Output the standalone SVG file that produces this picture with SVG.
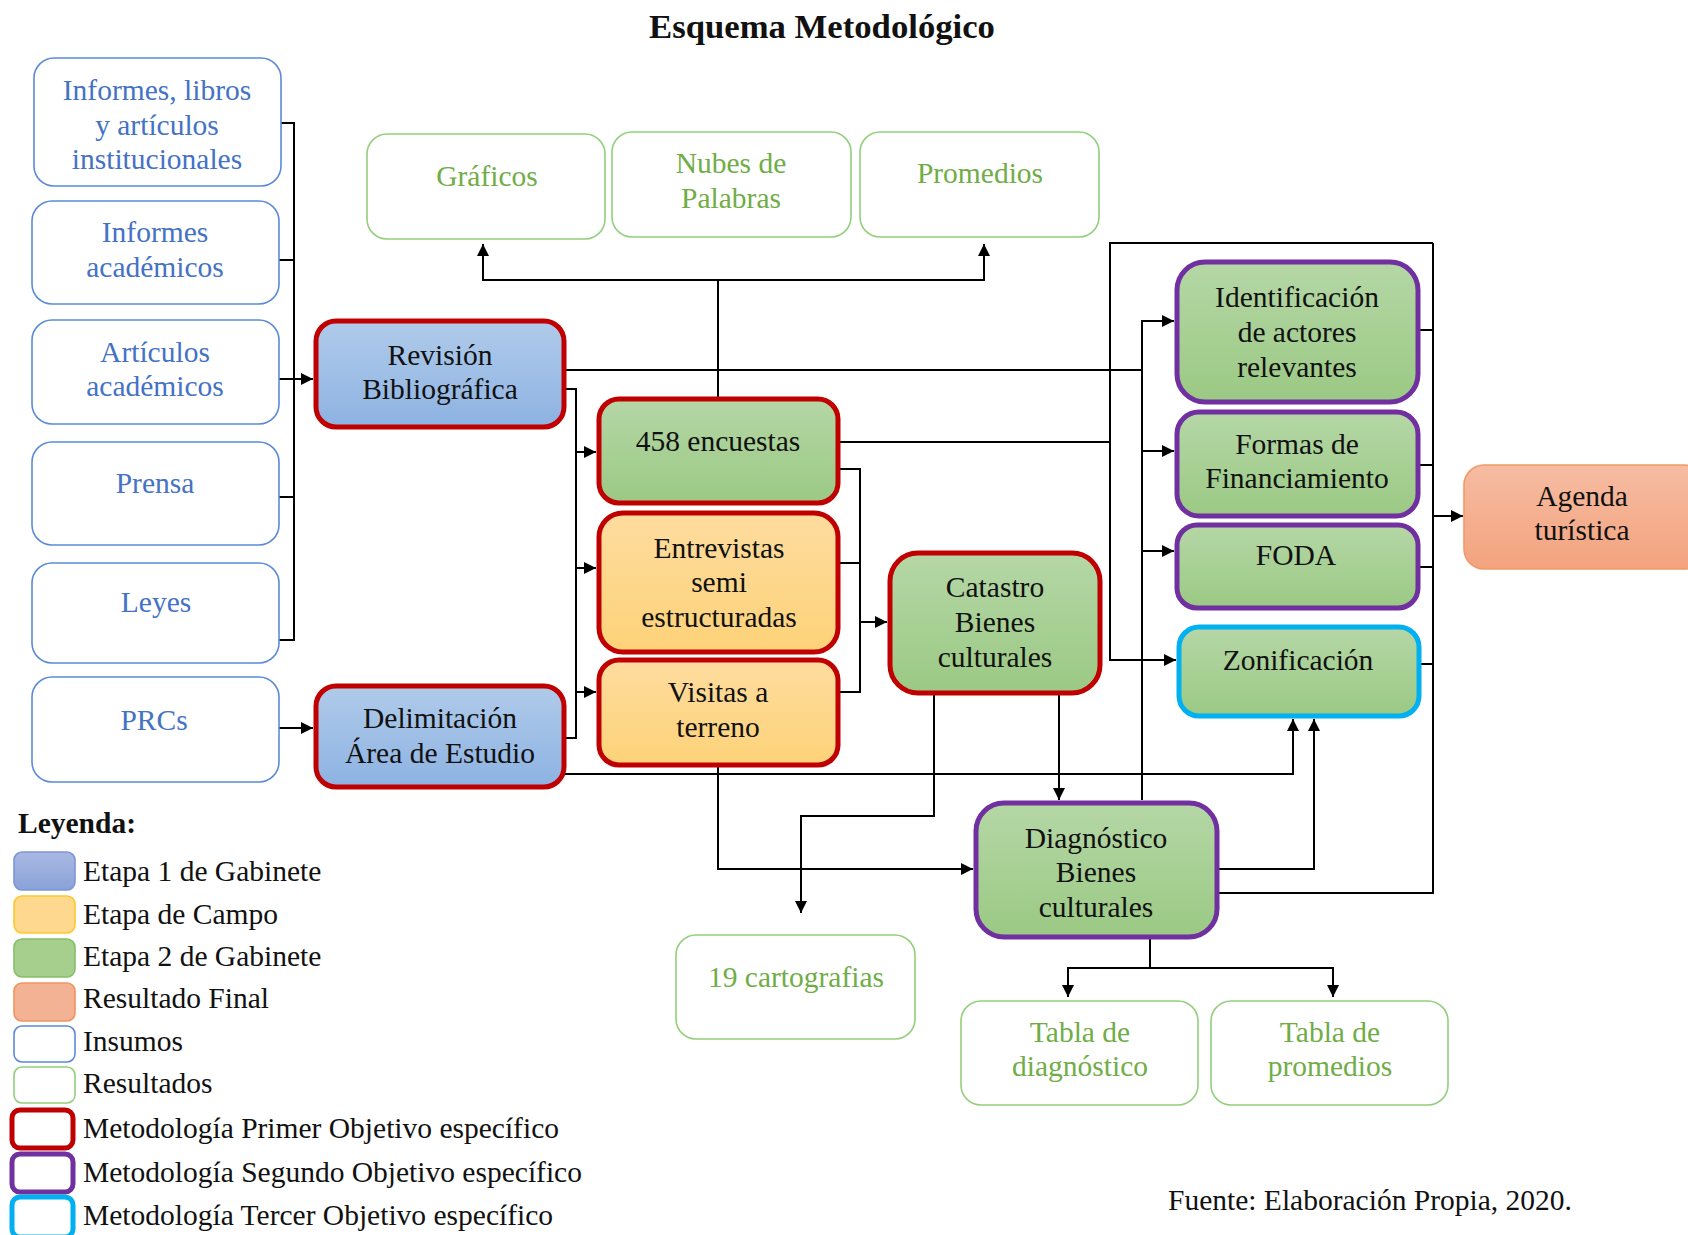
<svg xmlns="http://www.w3.org/2000/svg" width="1688" height="1235" viewBox="0 0 1688 1235">
<style>
.t{font-family:"Liberation Serif","Times New Roman",serif;font-size:29.5px;text-anchor:middle}
.l{font-family:"Liberation Serif","Times New Roman",serif;font-size:29.5px;fill:#111}
.tb{fill:#4472c4}
.tg{fill:#70ad47}
.tk{fill:#111}
.in{fill:#fff;stroke:#5b8bd6;stroke-width:1.6}
.res{fill:#fff;stroke:#93cf7c;stroke-width:1.6}
.red{stroke:#c00000;stroke-width:5}
.pur{stroke:#7030a0;stroke-width:5}
.cy{stroke:#00b0f0;stroke-width:5}
.fb{fill:url(#gb)}
.fgr{fill:url(#gg)}
.fo{fill:url(#go)}
.conn path{fill:none;stroke:#000;stroke-width:2}
.a{marker-end:url(#ar)}
</style>
<defs>
<linearGradient id="gb" x1="0" y1="0" x2="0" y2="1"><stop offset="0" stop-color="#b0cbea"/><stop offset="1" stop-color="#8db2e2"/></linearGradient>
<linearGradient id="gg" x1="0" y1="0" x2="0" y2="1"><stop offset="0" stop-color="#b5d7a6"/><stop offset="1" stop-color="#9bc984"/></linearGradient>
<linearGradient id="go" x1="0" y1="0" x2="0" y2="1"><stop offset="0" stop-color="#fedc9f"/><stop offset="1" stop-color="#fdd278"/></linearGradient>
<linearGradient id="gr" x1="0" y1="0" x2="0" y2="1"><stop offset="0" stop-color="#f6bca2"/><stop offset="1" stop-color="#f3a37e"/></linearGradient>
<linearGradient id="gl" x1="0" y1="0" x2="0" y2="1"><stop offset="0" stop-color="#a9b8e2"/><stop offset="1" stop-color="#8aa2d9"/></linearGradient>
<marker id="ar" viewBox="0 0 10 10" refX="10" refY="5" markerUnits="userSpaceOnUse" markerWidth="14" markerHeight="12" orient="auto-start-reverse"><path d="M0,0 L10,5 L0,10 z" fill="#000"/></marker>
</defs>
<text x="822" y="38" style="font-family:'Liberation Serif','Times New Roman',serif;font-size:34.7px;font-weight:bold;text-anchor:middle;fill:#111">Esquema Metodológico</text>

<g class="conn">
<path d="M281 123 H294 V640 H279"/>
<path d="M279 260 H294"/>
<path d="M279 497 H294"/>
<path class="a" d="M279 379 H313"/>
<path class="a" d="M279 728 H313"/>
<path d="M564 370 H1142"/>
<path class="a" d="M1142 800 V321 H1174"/>
<path class="a" d="M1142 451 H1174"/>
<path class="a" d="M1142 551 H1174"/>
<path d="M564 389 H576 V738 H564"/>
<path class="a" d="M576 452 H596"/>
<path class="a" d="M576 568 H596"/>
<path class="a" d="M576 692 H596"/>
<path d="M718 397 V280"/>
<path class="a" d="M718 280 H483 V244"/>
<path class="a" d="M718 280 H984 V244"/>
<path d="M838 442 H1110"/>
<path class="a" d="M1433 243 H1110 V660 H1176"/>
<path d="M1433 243 V893 H1217"/>
<path d="M1418 330 H1433"/>
<path d="M1418 465 H1433"/>
<path d="M1418 567 H1433"/>
<path d="M1419 664 H1433"/>
<path class="a" d="M1433 516 H1463"/>
<path d="M838 469 H860 V692 H838"/>
<path d="M838 563 H860"/>
<path class="a" d="M860 622 H887"/>
<path class="a" d="M934 693 V816 H801 V913"/>
<path class="a" d="M1059 693 V800"/>
<path class="a" d="M564 774 H1293 V719"/>
<path class="a" d="M718 765 V869 H973"/>
<path class="a" d="M1217 869 H1314 V719"/>
<path d="M1150 937 V968"/>
<path d="M1068 997 V968 H1333 V997" style="marker-start:url(#ar);marker-end:url(#ar)"/>
</g>

<g id="n-informes-libros"><rect class="in" x="34" y="58" width="247" height="128" rx="20"/><text class="t tb"><tspan x="157" y="100">Informes, libros</tspan><tspan x="157" y="135">y artículos</tspan><tspan x="157" y="169">institucionales</tspan></text></g>
<g id="n-informes-academicos"><rect class="in" x="32" y="201" width="247" height="103" rx="20"/><text class="t tb"><tspan x="155" y="242">Informes</tspan><tspan x="155" y="277">académicos</tspan></text></g>
<g id="n-articulos"><rect class="in" x="32" y="320" width="247" height="104" rx="20"/><text class="t tb"><tspan x="155" y="362">Artículos</tspan><tspan x="155" y="396">académicos</tspan></text></g>
<g id="n-prensa"><rect class="in" x="32" y="442" width="247" height="103" rx="20"/><text class="t tb" x="155" y="493">Prensa</text></g>
<g id="n-leyes"><rect class="in" x="32" y="563" width="247" height="100" rx="20"/><text class="t tb" x="156" y="612">Leyes</text></g>
<g id="n-prcs"><rect class="in" x="32" y="677" width="247" height="105" rx="20"/><text class="t tb" x="154" y="730">PRCs</text></g>

<g id="n-revision"><rect class="fb red" x="316" y="321" width="248" height="106" rx="20"/><text class="t tk"><tspan x="440" y="365">Revisión</tspan><tspan x="440" y="399">Bibliográfica</tspan></text></g>
<g id="n-delimitacion"><rect class="fb red" x="316" y="686" width="248" height="101" rx="20"/><text class="t tk"><tspan x="440" y="728">Delimitación</tspan><tspan x="440" y="763">Área de Estudio</tspan></text></g>

<g id="n-graficos"><rect class="res" x="367" y="134" width="238" height="105" rx="20"/><text class="t tg" x="487" y="186">Gráficos</text></g>
<g id="n-nubes"><rect class="res" x="612" y="132" width="239" height="105" rx="20"/><text class="t tg"><tspan x="731" y="173">Nubes de</tspan><tspan x="731" y="208">Palabras</tspan></text></g>
<g id="n-promedios"><rect class="res" x="860" y="132" width="239" height="105" rx="20"/><text class="t tg" x="980" y="183">Promedios</text></g>

<g id="n-encuestas"><rect class="fgr red" x="599" y="399" width="239" height="104" rx="20"/><text class="t tk" x="718" y="451">458 encuestas</text></g>
<g id="n-entrevistas"><rect class="fo red" x="599" y="513" width="239" height="139" rx="24"/><text class="t tk"><tspan x="719" y="558">Entrevistas</tspan><tspan x="719" y="592">semi</tspan><tspan x="719" y="627">estructuradas</tspan></text></g>
<g id="n-visitas"><rect class="fo red" x="599" y="660" width="239" height="105" rx="20"/><text class="t tk"><tspan x="718" y="702">Visitas a</tspan><tspan x="718" y="737">terreno</tspan></text></g>
<g id="n-catastro"><rect class="fgr red" x="890" y="553" width="210" height="140" rx="28"/><text class="t tk"><tspan x="995" y="597">Catastro</tspan><tspan x="995" y="632">Bienes</tspan><tspan x="995" y="667">culturales</tspan></text></g>

<g id="n-identificacion"><rect class="fgr pur" x="1177" y="262" width="241" height="140" rx="28"/><text class="t tk"><tspan x="1297" y="307">Identificación</tspan><tspan x="1297" y="342">de actores</tspan><tspan x="1297" y="377">relevantes</tspan></text></g>
<g id="n-formas"><rect class="fgr pur" x="1177" y="412" width="241" height="104" rx="22"/><text class="t tk"><tspan x="1297" y="454">Formas de</tspan><tspan x="1297" y="488">Financiamiento</tspan></text></g>
<g id="n-foda"><rect class="fgr pur" x="1177" y="525" width="241" height="83" rx="20"/><text class="t tk" x="1296" y="565">FODA</text></g>
<g id="n-zonificacion"><rect class="fgr cy" x="1179" y="627" width="240" height="89" rx="20"/><text class="t tk" x="1298" y="670">Zonificación</text></g>
<g id="n-agenda"><rect fill="url(#gr)" stroke="#f09a68" stroke-width="1.6" x="1464" y="465" width="240" height="104" rx="20"/><text class="t tk"><tspan x="1582" y="506">Agenda</tspan><tspan x="1582" y="540">turística</tspan></text></g>

<g id="n-diagnostico"><rect class="fgr pur" x="976" y="803" width="241" height="134" rx="28"/><text class="t tk"><tspan x="1096" y="848">Diagnóstico</tspan><tspan x="1096" y="882">Bienes</tspan><tspan x="1096" y="917">culturales</tspan></text></g>
<g id="n-cartografias"><rect class="res" x="676" y="935" width="239" height="104" rx="20"/><text class="t tg" x="796" y="987">19 cartografias</text></g>
<g id="n-tabla-diag"><rect class="res" x="961" y="1001" width="237" height="104" rx="20"/><text class="t tg"><tspan x="1080" y="1042">Tabla de</tspan><tspan x="1080" y="1076">diagnóstico</tspan></text></g>
<g id="n-tabla-prom"><rect class="res" x="1211" y="1001" width="237" height="104" rx="20"/><text class="t tg"><tspan x="1330" y="1042">Tabla de</tspan><tspan x="1330" y="1076">promedios</tspan></text></g>

<g id="legend">
<text x="18" y="833" style="font-family:'Liberation Serif','Times New Roman',serif;font-size:29.5px;font-weight:bold;fill:#111">Leyenda:</text>
<rect x="14" y="852" width="61" height="38" rx="8" fill="url(#gl)" stroke="#7b97d6" stroke-width="1.6"/>
<rect x="14" y="896" width="61" height="37" rx="8" fill="#fed88e" stroke="#ffc72c" stroke-width="1.6"/>
<rect x="14" y="939" width="61" height="38" rx="8" fill="#a6cf8e" stroke="#86bf6a" stroke-width="1.6"/>
<rect x="14" y="983" width="61" height="38" rx="8" fill="#f4b294" stroke="#f0955f" stroke-width="1.6"/>
<rect x="14" y="1026" width="61" height="36" rx="8" class="in"/>
<rect x="14" y="1067" width="61" height="36" rx="8" class="res"/>
<rect x="12" y="1110" width="61" height="38" rx="8" fill="#fff" class="red"/>
<rect x="12" y="1154" width="61" height="38" rx="8" fill="#fff" class="pur"/>
<rect x="12" y="1197" width="61" height="40" rx="8" fill="#fff" class="cy"/>
<text class="l" x="83" y="881">Etapa 1 de Gabinete</text>
<text class="l" x="83" y="924">Etapa de Campo</text>
<text class="l" x="83" y="966">Etapa 2 de Gabinete</text>
<text class="l" x="83" y="1008">Resultado Final</text>
<text class="l" x="83" y="1051">Insumos</text>
<text class="l" x="83" y="1093">Resultados</text>
<text class="l" x="83" y="1138">Metodología Primer Objetivo específico</text>
<text class="l" x="83" y="1182">Metodología Segundo Objetivo específico</text>
<text class="l" x="83" y="1225">Metodología Tercer Objetivo específico</text>
</g>
<text class="l" x="1168" y="1210">Fuente: Elaboración Propia, 2020.</text>
</svg>
